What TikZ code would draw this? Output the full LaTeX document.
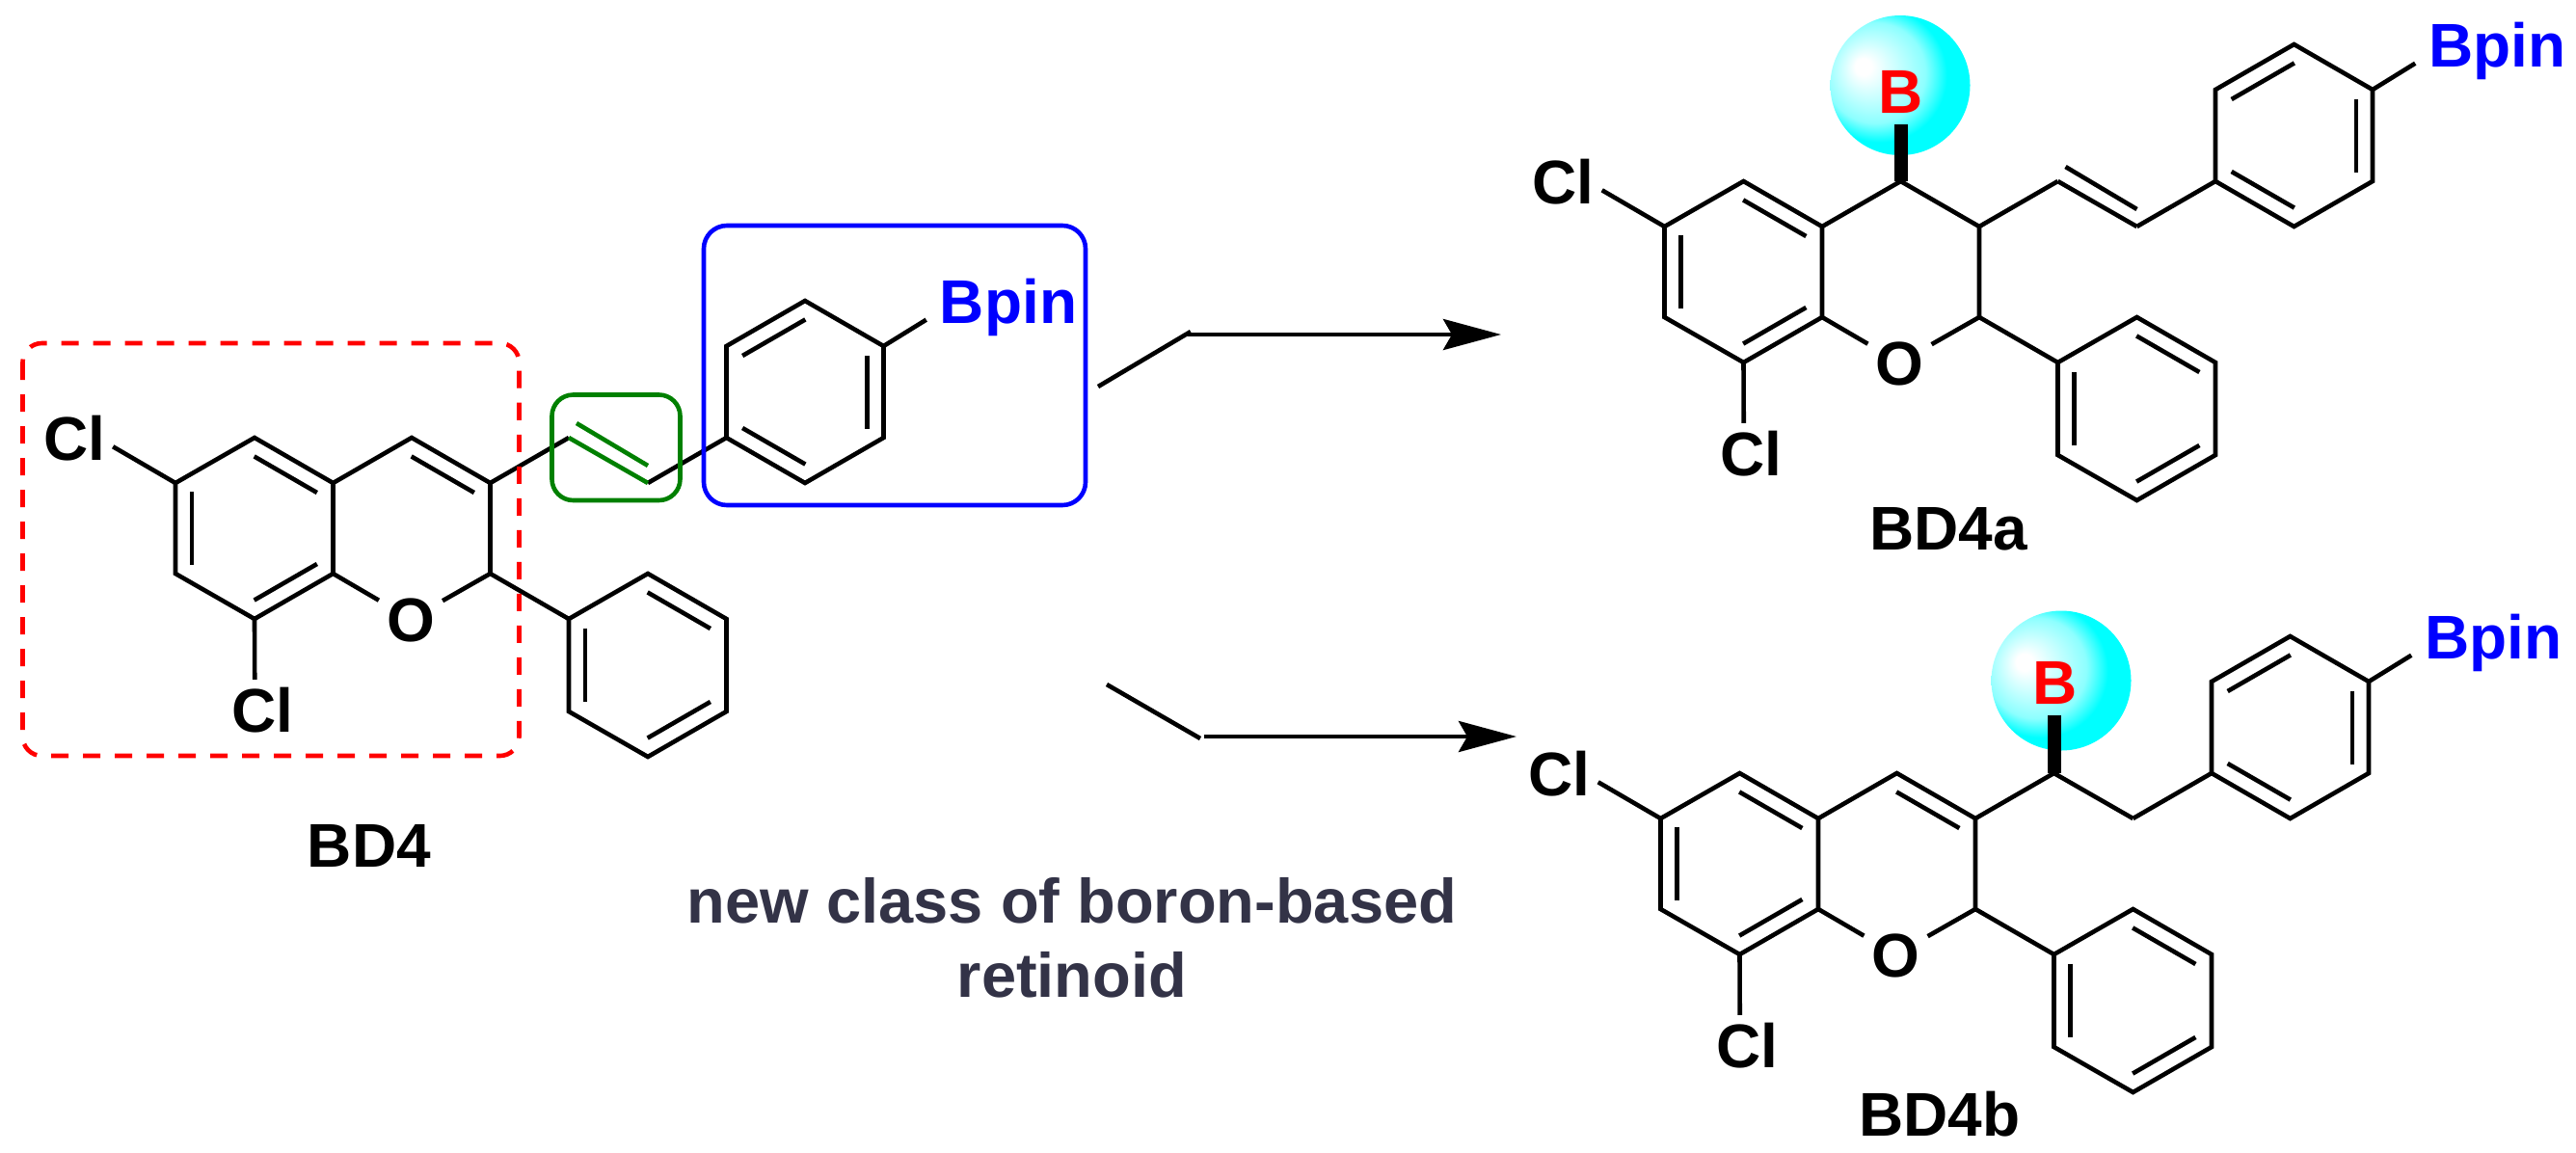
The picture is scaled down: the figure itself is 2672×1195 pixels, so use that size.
\documentclass[tikz,border=0pt]{standalone}
\usepackage{fontspec}
\setmainfont{Liberation Sans}
\usetikzlibrary{arrows.meta,calc}

\definecolor{boxgreen}{RGB}{0,128,0}
\definecolor{slatetext}{RGB}{51,51,71}
\colorlet{midcyan}{cyan!45!white}
\pgfdeclareradialshading{bsphere}{\pgfpoint{-14bp}{7bp}}{color(0bp)=(white);color(3bp)=(white);color(18bp)=(midcyan);color(24bp)=(cyan);color(50bp)=(cyan)}

\tikzset{
  bond/.style={line width=4.6pt,line join=miter},
  atom/.style={font=\fontsize{64}{64}\selectfont\bfseries,text height=46pt,text depth=0pt,inner sep=8pt},
  reaction/.style={line width=4.6pt,-{Stealth[length=60pt,width=32pt,inset=9pt]}},
  ball/.style={circle,shade,shading=bsphere,minimum size=145pt,inner sep=0pt},
  wedge/.style={line width=14pt}
}

% second line of a double bond, on the left of the way #1 to #2
\newcommand{\innerbond}[2]{\draw[bond] ($(#1)!.1!(#2)!17pt!90:(#2)$) -- ($(#2)!.1!(#1)!17pt!-90:(#1)$);}

% what the three molecules have in common
\newcommand{\chromene}{
  \coordinate (C6) at (182,501);
  \coordinate (C5) at (264,454);
  \coordinate (C4a) at (345.5,501);
  \coordinate (C4) at (427,454);
  \coordinate (C3) at (508.5,501);
  \coordinate (C2) at (508.5,595);
  \coordinate (C8a) at (345.5,595);
  \coordinate (C8) at (264,642);
  \coordinate (C7) at (182,595);
  \coordinate (Ca) at (590,454);
  \coordinate (Cb) at (672,501);
  \coordinate (P1) at (590,642);
  \coordinate (P2) at (672,595);
  \coordinate (P3) at (753.5,642);
  \coordinate (P4) at (753.5,738);
  \coordinate (P5) at (672,785);
  \coordinate (P6) at (590,738);
  \coordinate (A1) at (753.5,454);
  \coordinate (A2) at (753.5,359);
  \coordinate (A3) at (835,312);
  \coordinate (A4) at (916.5,359);
  \coordinate (A5) at (916.5,454);
  \coordinate (A6) at (835,501);
  \node[atom] (O) at (426,642) {O};
  \node[atom] (Cl6) at (77,454) {Cl};
  \node[atom] (Cl8) at (272,736) {Cl};
  \node[atom,text=blue,inner xsep=14pt] (Bpin) at (1046,312) {Bpin};
  \draw[bond] (C6) -- (C5) -- (C4a) -- (C8a) -- (C8) -- (C7) -- cycle;
  \draw[bond] (C4a) -- (C4) -- (C3) -- (C2);
  \draw[bond] (C8a) -- (O) -- (C2);
  \draw[bond] (C2) -- (P1);
  \draw[bond] (P1) -- (P2) -- (P3) -- (P4) -- (P5) -- (P6) -- cycle;
  \draw[bond] (C3) -- (Ca);
  \draw[bond] (Cb) -- (A1);
  \draw[bond] (A1) -- (A2) -- (A3) -- (A4) -- (A5) -- (A6) -- cycle;
  \draw[bond] (C6) -- (Cl6.-13);
  \draw[bond] (C8) -- (Cl8.104);
  \draw[bond] (A4) -- (Bpin.193);
  \innerbond{C4a}{C5}
  \innerbond{C6}{C7}
  \innerbond{C8}{C8a}
  \innerbond{P3}{P2}
  \innerbond{P1}{P6}
  \innerbond{P5}{P4}
  \innerbond{A3}{A2}
  \innerbond{A5}{A4}
  \innerbond{A1}{A6}
}

\begin{document}
\begin{tikzpicture}[x=1pt,y=-1pt]
\useasboundingbox (0,0) rectangle (2672,1195);

\begin{scope}
  \chromene
  \innerbond{C3}{C4}
  \draw[bond,boxgreen] (Ca) -- (Cb);
  \draw[bond,boxgreen] ($(Ca)+(8,-15)$) -- ($(Cb)+(0,-18)$);
  \node[atom] (BD4) at (383,876) {BD4};
  \draw[line width=4.6pt,red,dash pattern=on 18pt off 15pt,rounded corners=20pt] (23.5,356) rectangle (538.5,784);
  \draw[line width=4.6pt,boxgreen,rounded corners=22pt] (572.5,409.5) rectangle (705.5,519);
  \draw[line width=4.6pt,blue,rounded corners=24pt] (730,234) rectangle (1126,524);
\end{scope}

\begin{scope}[shift={(1544.5,-266)}]
  \node[ball] (S) at (426.5,354.5) {};
  \chromene
  \coordinate (W) at (427,395);
  \draw[wedge] (C4) -- (W);
  \draw[bond] (Ca) -- (Cb);
  \draw[bond] ($(Ca)+(8,-15)$) -- ($(Cb)+(0,-18)$);
  \node[atom,text=red] (B) at (427.5,360) {B};
  \node[atom] (BD4a) at (476.5,813) {BD4a};
\end{scope}

\begin{scope}[shift={(1540.5,348)}]
  \node[ball] (S) at (597.5,358) {};
  \chromene
  \coordinate (W) at (590,394);
  \innerbond{C3}{C4}
  \draw[wedge] (Ca) -- (W);
  \draw[bond] (Ca) -- (Cb);
  \node[atom,text=red] (B) at (591,359) {B};
  \node[atom] (BD4b) at (471.5,807) {BD4b};
\end{scope}

\coordinate (s1) at (1139,401);
\coordinate (k1) at (1235,344);
\coordinate (h1) at (1232,347);
\coordinate (t1) at (1557,347);
\draw[bond] (s1) -- (k1);
\draw[reaction] (h1) -- (t1);

\coordinate (s2) at (1148,710);
\coordinate (k2) at (1245,766);
\coordinate (h2) at (1249,764);
\coordinate (t2) at (1573,764);
\draw[bond] (s2) -- (k2);
\draw[reaction] (h2) -- (t2);

\node[font=\fontsize{65}{76.7}\selectfont\bfseries,text=slatetext,align=center] (note) at (1112,973) {new class of boron-based\\retinoid};
\end{tikzpicture}
\end{document}
